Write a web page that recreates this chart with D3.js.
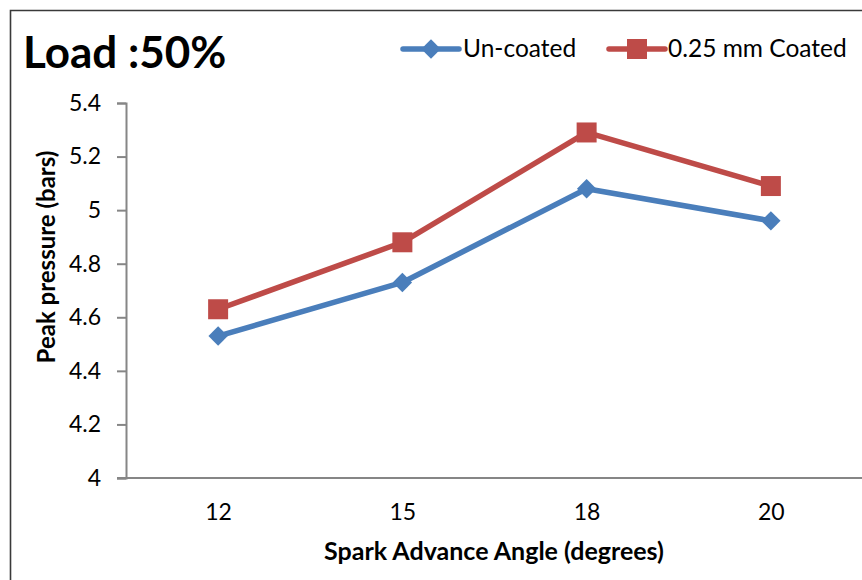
<!DOCTYPE html>
<html>
<head>
<meta charset="utf-8">
<script src="https://cdn.jsdelivr.net/npm/d3@7"></script>
<style>
  html, body { margin: 0; padding: 0; background: #fff; }
  svg { display: block; font-family: Lato, "Open Sans", sans-serif; }
</style>
</head>
<body>
<svg id="chart" width="862" height="580"></svg>
<script>
// Spark advance angles (degrees) and peak cylinder pressure (bars) at 50% load
const angles = ["12", "15", "18", "20"];
const uncoated = [4.53, 4.73, 5.08, 4.96];
const coated = [4.63, 4.88, 5.29, 5.09];
const yTicks = [4, 4.2, 4.4, 4.6, 4.8, 5, 5.2, 5.4];
const seriesNames = ["Un-coated", "0.25 mm Coated"];
const seriesColors = ["#4A7EBB", "#BE4B48"];

const svg = d3.select("#chart");
const plot = { left: 126, right: 863, top: 103, bottom: 478 };

const x = d3.scalePoint().domain(angles).range([plot.left, plot.right]).padding(0.5);
const y = d3.scaleLinear().domain([4, 5.4]).range([plot.bottom, plot.top]);

// outer frame (left and top edges visible)
svg.append("path")
  .attr("d", "M10.5,580 V10.5 H862")
  .attr("fill", "none").attr("stroke", "#3a3a3a").attr("stroke-width", 1.6);

// title
svg.append("text").attr("x", 23).attr("y", 68)
  .attr("font-size", 44).attr("font-weight", 700).attr("fill", "#000")
  .text("Load :50%");

// y axis
const yAxis = d3.axisLeft(y).tickValues(yTicks).tickSize(9).tickPadding(16)
  .tickFormat(d => d3.format("")(+d.toFixed(1)));
const gy = svg.append("g").attr("transform", `translate(${plot.left},0)`).call(yAxis);
gy.select(".domain").attr("stroke", "#868686").attr("stroke-width", 2);
gy.selectAll(".tick line").attr("stroke", "#868686").attr("stroke-width", 2);
gy.selectAll(".tick text").attr("font-size", 23).attr("fill", "#000")
  .attr("font-family", "Lato, sans-serif");

// x axis (category axis, no tick marks)
const xAxis = d3.axisBottom(x).tickSize(0).tickPadding(26);
const gx = svg.append("g").attr("transform", `translate(0,${plot.bottom})`).call(xAxis);
gx.select(".domain").attr("d", `M${plot.left - 9},0H${plot.right}`)
  .attr("stroke", "#868686").attr("stroke-width", 2);
gx.selectAll(".tick text").attr("font-size", 23).attr("fill", "#000")
  .attr("font-family", "Lato, sans-serif");

// axis titles
svg.append("text").attr("x", 494).attr("y", 560).attr("text-anchor", "middle")
  .attr("font-size", 25).attr("font-weight", 700).text("Spark Advance Angle (degrees)");
svg.append("text").attr("transform", "translate(55,257) rotate(-90)")
  .attr("text-anchor", "middle").attr("font-size", 24).attr("font-weight", 700)
  .text("Peak pressure (bars)");

// series
const series = [uncoated, coated];
const line = d3.line().x((d, i) => x(angles[i])).y(d => y(d));
const diamond = d3.symbol().type(d3.symbolDiamond2).size(240);
const square = d3.symbol().type(d3.symbolSquare).size(400);
const shapes = [diamond, square];

series.forEach((vals, s) => {
  svg.append("path").datum(vals).attr("d", line)
    .attr("fill", "none").attr("stroke", seriesColors[s])
    .attr("stroke-width", 5.5).attr("stroke-linejoin", "round");
  svg.selectAll(null).data(vals).enter().append("path")
    .attr("d", shapes[s])
    .attr("transform", (d, i) => `translate(${x(angles[i])},${y(d)})`)
    .attr("fill", seriesColors[s]);
});

// legend
const legend = [
  { x0: 403, x1: 459, tx: 463 },
  { x0: 609, x1: 665, tx: 668 }
];
legend.forEach((L, s) => {
  const ly = 49;
  svg.append("line").attr("x1", L.x0).attr("x2", L.x1).attr("y1", ly).attr("y2", ly)
    .attr("stroke", seriesColors[s]).attr("stroke-width", 5.5).attr("stroke-linecap", "round");
  svg.append("path").attr("d", shapes[s])
    .attr("transform", `translate(${(L.x0 + L.x1) / 2},${ly})`)
    .attr("fill", seriesColors[s]);
  svg.append("text").attr("x", L.tx).attr("y", ly + 8)
    .attr("font-size", 24.5).attr("fill", "#000").text(seriesNames[s]);
});
</script>
</body>
</html>
